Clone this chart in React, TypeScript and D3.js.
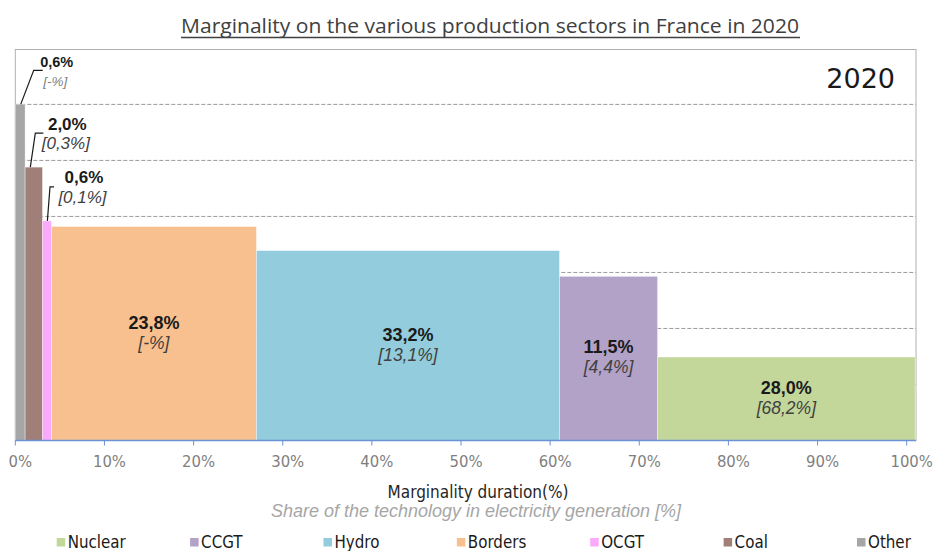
import * as d3 from "d3";

// blocks from left to right on the duration axis
const sectors = ["Other", "Coal", "OCGT", "Borders", "Hydro", "CCGT", "Nuclear"];
const sectorColors = ["#a6a6a6", "#a17f79", "#fbaafb", "#f9c08f", "#93cddd", "#b3a2c7", "#c4d79b"];
// block width as drawn on the x axis (%)
const drawnWidth = [1.1, 1.95, 1.0, 23.0, 34.0, 11.0, 28.9];
// block height (merit order level, one grid step = 1)
const level = [6.0, 4.88, 3.92, 3.82, 3.39, 2.93, 1.49];
const durationLabels = ["0,6%", "2,0%", "0,6%", "23,8%", "33,2%", "11,5%", "28,0%"];
const shareLabels = ["[-%]", "[0,3%]", "[0,1%]", "[-%]", "[13,1%]", "[4,4%]", "[68,2%]"];
const xTicks = [0, 10, 20, 30, 40, 50, 60, 70, 80, 90, 100];
const gridLevels = [1, 2, 3, 4, 5, 6];
const legendOrder = ["Nuclear", "CCGT", "Hydro", "Borders", "OCGT", "Coal", "Other"];

// callouts for the thin blocks: slant of the leader, its short foot, text offset
const callouts = [
  { dx: 13, foot: 9, tx: 22, big: 14.5, small: 13.5, smallFill: "#808080" },
  { dx: 5, foot: 8, tx: 32, big: 17, small: 17, smallFill: "#404040" },
  { dx: 2.6, foot: 4, tx: 38, big: 17, small: 17, smallFill: "#404040" },
];

const W = 933;
const H = 551;
const plot = { left: 15.3, right: 906.7, top: 49.5, bottom: 440.5, frameRight: 916 };
const condensed = "'DejaVu Sans Condensed', 'DejaVu Sans', sans-serif";
const arial = "'Liberation Sans', Arial, sans-serif";

export default function App() {
  const x = d3.scaleLinear().domain([0, 100]).range([plot.left, plot.right]);
  const y = d3.scaleLinear().domain([0, 6.98]).range([plot.bottom, plot.top]);
  const starts = [0, ...Array.from(d3.cumsum(drawnWidth))];
  const color = d3.scaleOrdinal<string, string>().domain(sectors).range(sectorColors);
  const legendX = d3.scalePoint<string>().domain(legendOrder).range([56.7, 857]);

  const bars = sectors.map((s, i) => ({
    name: s,
    x0: x(starts[i]),
    x1: x(starts[i] + drawnWidth[i]),
    top: y(level[i]),
  }));

  return (
    <div>
      <style>{"body{margin:0}"}</style>
      <svg width={W} height={H} style={{ display: "block", background: "#fff" }}>
        {/* title */}
        <text x={490} y={33} textAnchor="middle" fontFamily="'Open Sans', sans-serif" fontSize={20} fill="#404040"
          textLength={618} lengthAdjust="spacingAndGlyphs">
          Marginality on the various production sectors in France in 2020
        </text>
        <line x1={181} x2={800} y1={37.5} y2={37.5} stroke="#404040" strokeWidth={1.3} />

        {/* dashed grid behind the blocks */}
        {gridLevels.map((g) => (
          <line key={g} x1={plot.left} x2={plot.frameRight} y1={y(g)} y2={y(g)}
            stroke="#9a9a9a" strokeWidth={1} strokeDasharray="4,2" />
        ))}

        {/* frame */}
        <rect x={plot.left} y={plot.top} width={plot.frameRight - plot.left} height={plot.bottom - plot.top}
          fill="none" stroke="#b0b0b0" strokeWidth={1} />

        {/* blocks */}
        {bars.map((b) => (
          <rect key={b.name} x={b.x0} y={b.top} width={b.x1 - b.x0} height={plot.bottom - b.top}
            fill={color(b.name)} stroke="#ffffff" strokeOpacity={0.45} strokeWidth={0.8} />
        ))}

        {/* labels inside the wide blocks */}
        {bars.slice(3).map((b, j) => {
          const i = j + 3;
          const cx = (b.x0 + b.x1) / 2;
          const mid = (b.top + plot.bottom) / 2;
          return (
            <g key={b.name} textAnchor="middle" fontFamily={arial}>
              <text x={cx} y={mid - 5} fontSize={18} fontWeight="bold" fill="#1a1a1a">{durationLabels[i]}</text>
              <text x={cx} y={mid + 15} fontSize={17.5} fontStyle="italic" fill="#404040">{shareLabels[i]}</text>
            </g>
          );
        })}

        {/* callouts for the thin blocks */}
        {bars.slice(0, 3).map((b, i) => {
          const c = callouts[i];
          const sx = b.x0 + (b.x1 - b.x0) * (i === 1 ? 0.3 : 0.55);
          const sy = b.top;
          const ex = sx + c.dx;
          const ey = sy - 34;
          const tx = ex + c.foot + c.tx - 8;
          return (
            <g key={b.name} fontFamily={arial} textAnchor="middle">
              <path d={`M${sx},${sy}L${ex},${ey}L${ex + c.foot},${ey}`} fill="none" stroke="#1a1a1a" strokeWidth={1.2} />
              <text x={tx} y={ey - 3.5} fontSize={c.big} fontWeight="bold" fill="#1a1a1a">{durationLabels[i]}</text>
              <text x={tx - 1.5} y={ey + 16} fontSize={c.small} fontStyle="italic" fill={c.smallFill}>{shareLabels[i]}</text>
            </g>
          );
        })}

        {/* year badge */}
        <text x={895} y={88} textAnchor="end" fontFamily="'DejaVu Sans', sans-serif" fontSize={27} fill="#1a1a1a">2020</text>

        {/* x axis */}
        <line x1={plot.left} x2={plot.frameRight} y1={plot.bottom} y2={plot.bottom} stroke="#6a92d4" strokeWidth={1.5} />
        {xTicks.map((t) => (
          <g key={t}>
            <line x1={x(t)} x2={x(t)} y1={plot.bottom} y2={plot.bottom + 5} stroke="#6a92d4" strokeWidth={1} />
            <text x={x(t) + 5} y={466.5} textAnchor="middle" fontFamily={condensed} fontSize={16.5} fill="#7f7f7f">
              {t}%
            </text>
          </g>
        ))}
        <text x={478} y={498} textAnchor="middle" fontFamily={condensed} fontSize={17} fill="#262626">
          Marginality duration(%)
        </text>
        <text x={476} y={517} textAnchor="middle" fontFamily={arial} fontSize={18} fontStyle="italic" fill="#a6a6a6">
          Share of the technology in electricity generation [%]
        </text>

        {/* legend */}
        {legendOrder.map((s) => (
          <g key={s} transform={`translate(${legendX(s)},538)`}>
            <rect x={0} y={0} width={8.5} height={8.5} fill={color(s)} />
            <text x={11} y={10} fontFamily={condensed} fontSize={16.8} fill="#1a1a1a">{s}</text>
          </g>
        ))}
      </svg>
    </div>
  );
}
